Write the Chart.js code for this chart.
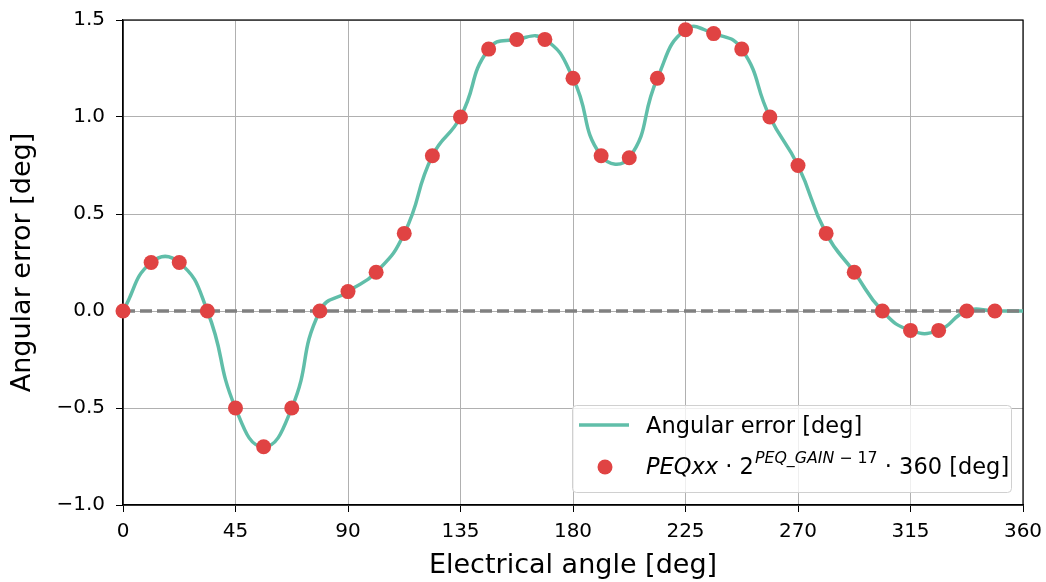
<!DOCTYPE html>
<html>
<head>
<meta charset="utf-8">
<script src="https://cdn.jsdelivr.net/npm/chart.js@4"></script>
<style>
  html, body { margin: 0; padding: 0; background: #fff; }
  #wrap { width: 1046px; height: 582px; }
</style>
</head>
<body>
<div id="wrap"><canvas id="chart" width="1046" height="582"></canvas></div>
<script>
// DATA
const sampleAngles = [0, 11.25, 22.5, 33.75, 45, 56.25, 67.5, 78.75, 90, 101.25, 112.5, 123.75,
  135, 146.25, 157.5, 168.75, 180, 191.25, 202.5, 213.75, 225, 236.25, 247.5, 258.75,
  270, 281.25, 292.5, 303.75, 315, 326.25, 337.5, 348.75];
const sampleErrors = [0, 0.25, 0.25, 0, -0.5, -0.7, -0.5, 0, 0.1, 0.2, 0.4, 0.8,
  1.0, 1.35, 1.4, 1.4, 1.2, 0.8, 0.79, 1.2, 1.45, 1.43, 1.35, 1.0,
  0.75, 0.4, 0.2, 0, -0.1, -0.1, 0, 0];
const curveAngles = sampleAngles.concat([360]);
const curveErrors = sampleErrors.concat([0]);
const zeroLineX = [0, 360];
const zeroLineY = [0, 0];
const xTicks = [0, 45, 90, 135, 180, 225, 270, 315, 360];
const yTicks = [-1.0, -0.5, 0.0, 0.5, 1.0, 1.5];

const TEAL = '#60bea9';
const RED = '#e04343';
const FONT = 'DejaVu Sans';

const toPoints = (xs, ys) => xs.map((x, i) => ({ x: x, y: ys[i] }));

// frame around the axes (top + right spines)
const framePlugin = {
  id: 'frame',
  beforeDatasetsDraw(chart) {
    const a = chart.chartArea;
    const ctx = chart.ctx;
    ctx.save();
    ctx.strokeStyle = '#000';
    ctx.lineWidth = 1.2;
    ctx.strokeRect(a.left, a.top, a.right - a.left, a.bottom - a.top);
    ctx.restore();
  }
};

// legend with the math label
const legendPlugin = {
  id: 'mathLegend',
  afterDraw(chart) {
    const ctx = chart.ctx;
    const bx = 572.5, by = 405.5, bw = 439, bh = 87;
    ctx.save();
    ctx.beginPath();
    ctx.roundRect(bx, by, bw, bh, 4);
    ctx.fillStyle = 'rgba(255,255,255,0.8)';
    ctx.fill();
    ctx.strokeStyle = '#d0d0d0';
    ctx.lineWidth = 1;
    ctx.stroke();

    // line entry
    ctx.strokeStyle = TEAL;
    ctx.lineWidth = 3.5;
    ctx.beginPath();
    ctx.moveTo(579, 425);
    ctx.lineTo(629, 425);
    ctx.stroke();
    ctx.fillStyle = '#000';
    ctx.textBaseline = 'alphabetic';
    ctx.font = '22.5px ' + FONT;
    ctx.fillText('Angular error [deg]', 646, 433);

    // dot entry
    ctx.fillStyle = RED;
    ctx.beginPath();
    ctx.arc(605, 467, 7.5, 0, Math.PI * 2);
    ctx.fill();

    ctx.fillStyle = '#000';
    let x = 646;
    const base = 474;
    ctx.font = 'italic 22.5px ' + FONT;
    ctx.fillText('PEQxx', x, base);
    x += ctx.measureText('PEQxx').width;
    ctx.font = '22.5px ' + FONT;
    ctx.fillText(' \u00b7 2', x, base);
    x += ctx.measureText(' \u00b7 2').width + 1;
    ctx.font = 'italic 15.8px ' + FONT;
    ctx.fillText('PEQ_GAIN', x, base - 11);
    x += ctx.measureText('PEQ_GAIN').width;
    ctx.font = '15.8px ' + FONT;
    ctx.fillText(' \u2212 17', x, base - 11);
    x += ctx.measureText(' \u2212 17').width;
    ctx.font = '22.5px ' + FONT;
    ctx.fillText(' \u00b7 360 [deg]', x, base);
    ctx.restore();
  }
};

new Chart(document.getElementById('chart'), {
  type: 'scatter',
  data: {
    datasets: [
      {
        label: 'samples',
        data: toPoints(sampleAngles, sampleErrors),
        showLine: false,
        pointRadius: 7.5,
        pointHoverRadius: 7.5,
        pointBackgroundColor: RED,
        pointBorderWidth: 0,
        clip: false,
        order: 0
      },
      {
        label: 'zero',
        data: toPoints(zeroLineX, zeroLineY),
        showLine: true,
        borderColor: '#808080',
        borderWidth: 3.5,
        borderDash: [12, 5],
        pointRadius: 0,
        order: 1
      },
      {
        label: 'Angular error [deg]',
        data: toPoints(curveAngles, curveErrors),
        showLine: true,
        borderColor: TEAL,
        borderWidth: 3.5,
        tension: 0.5,
        pointRadius: 0,
        order: 2
      }
    ]
  },
  options: {
    responsive: false,
    animation: false,
    events: [],
    layout: { padding: { left: 0, right: 23, top: 20, bottom: 0 } },
    plugins: { legend: { display: false }, tooltip: { enabled: false } },
    scales: {
      x: {
        type: 'linear',
        min: 0,
        max: 360,
        afterBuildTicks: s => { s.ticks = xTicks.map(v => ({ value: v })); },
        afterFit: s => {
          s.height = 77;
          s.paddingLeft = 0;
          s.paddingRight = 0;
        },
        ticks: { color: '#000', font: { family: FONT, size: 20 }, padding: 8,
          maxRotation: 0, callback: v => String(v) },
        grid: { color: '#b0b0b0', lineWidth: 1, tickColor: '#000', tickLength: 7 },
        border: { color: '#000', width: 1.2 },
        title: { display: true, text: 'Electrical angle [deg]', color: '#000',
          font: { family: FONT, size: 27 }, padding: { top: 0, bottom: 0 } }
      },
      y: {
        type: 'linear',
        min: -1,
        max: 1.5,
        afterBuildTicks: s => { s.ticks = yTicks.map(v => ({ value: v })); },
        afterFit: s => {
          s.width = 123;
          s.paddingTop = 0;
          s.paddingBottom = 0;
        },
        ticks: { color: '#000', font: { family: FONT, size: 20 }, padding: 11,
          callback: v => v.toFixed(1).replace('-', '\u2212') },
        grid: { color: '#b0b0b0', lineWidth: 1, tickColor: '#000', tickLength: 7 },
        border: { color: '#000', width: 1.2 },
        title: { display: true, text: 'Angular error [deg]', color: '#000',
          font: { family: FONT, size: 27 }, padding: { top: 7, bottom: 0 } }
      }
    }
  },
  plugins: [framePlugin, legendPlugin]
});
</script>
</body>
</html>
